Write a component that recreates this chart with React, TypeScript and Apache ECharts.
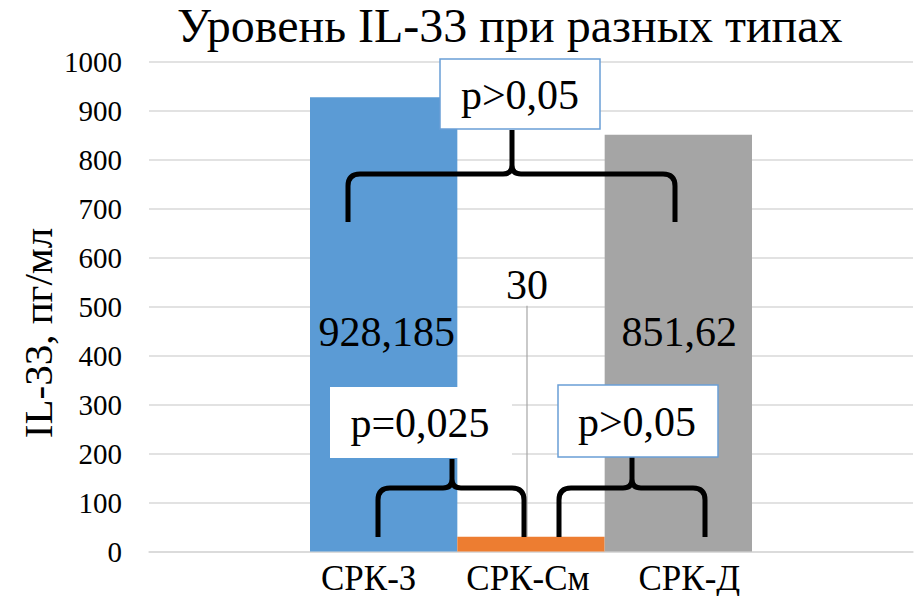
import React, { useEffect, useRef } from 'react';
import * as echarts from 'echarts';

// ---- data ----
const categories = ['СРК-З', 'СРК-См', 'СРК-Д'];
const values = [928.185, 30, 851.62];
const barColors = ['#5B9BD5', '#ED7D31', '#A5A5A5'];
const yMin = 0;
const yMax = 1000;
const yStep = 100;
const chartTitle = 'Уровень IL-33 при разных типах';
const yName = 'IL-33, пг/мл';
const pLabels = ['p>0,05', 'p=0,025', 'p>0,05'];

// ---- styling ----
const FONT = "'Liberation Serif', 'Times New Roman', Times, serif";
const catLabelPadding = [
  [0, 30, 0, 0],
  [0, 6, 0, 0],
  [0, 0, 0, 22],
];
const labelShifts = [
  { dx: 3, dy: 8 },
  { dx: -4, dy: -226 },
  { dx: 1, dy: -11 },
];

// brace geometry (annotations)
const braceDefs = [
  { name: 'braceTop', L: 348, M: 512, R: 675, top: 130, mid: 174, bottom: 222 },
  { name: 'braceLL', L: 378, M: 452, R: 524, top: 459, mid: 488, bottom: 537 },
  { name: 'braceLR', L: 559, M: 632, R: 705, top: 457, mid: 488, bottom: 537 },
];
const boxDefs = [
  { x: 440, y: 59, w: 160, h: 70, border: true, tx: 520, ty: 95 },
  { x: 330, y: 387, w: 182, h: 71, border: false, tx: 420, ty: 423 },
  { x: 558, y: 385, w: 160, h: 72, border: true, tx: 637, ty: 422 },
];

function bracePath(L: number, M: number, R: number, top: number, mid: number, bottom: number) {
  const rc = 12;
  const rm = 9;
  return [
    `M ${L} ${bottom}`,
    `L ${L} ${mid + rc}`,
    `Q ${L} ${mid} ${L + rc} ${mid}`,
    `L ${M - rm} ${mid}`,
    `Q ${M} ${mid} ${M} ${mid - rm}`,
    `L ${M} ${top}`,
    `M ${M} ${mid - rm}`,
    `Q ${M} ${mid} ${M + rm} ${mid}`,
    `L ${R - rc} ${mid}`,
    `Q ${R} ${mid} ${R} ${mid + rc}`,
    `L ${R} ${bottom}`,
  ].join(' ');
}

braceDefs.forEach((b) => {
  echarts.graphic.registerShape(
    b.name,
    echarts.graphic.extendPath(bracePath(b.L, b.M, b.R, b.top, b.mid, b.bottom), {})
  );
});

const fmt = (v: number) => String(v).replace('.', ',');

export default function App() {
  const ref = useRef<HTMLDivElement>(null);

  useEffect(() => {
    if (!ref.current) return;
    const chart = echarts.init(ref.current, undefined, { renderer: 'svg' });

    const graphics: any[] = [];
    braceDefs.forEach((b) => {
      graphics.push({
        type: b.name,
        x: 0,
        y: 0,
        z: 50,
        style: { fill: 'none', stroke: '#000', lineWidth: 5, lineCap: 'butt', lineJoin: 'round' },
      });
    });
    boxDefs.forEach((bx, i) => {
      graphics.push({
        type: 'rect',
        z: 60,
        shape: { x: bx.x, y: bx.y, width: bx.w, height: bx.h },
        style: {
          fill: '#fff',
          stroke: bx.border ? '#6A9FD6' : 'none',
          lineWidth: bx.border ? 1.5 : 0,
        },
      });
      graphics.push({
        type: 'text',
        z: 70,
        x: bx.tx,
        y: bx.ty,
        style: {
          text: pLabels[i],
          fontSize: 42,
          fontFamily: FONT,
          fill: '#000',
          align: 'center',
          verticalAlign: 'middle',
        },
      });
    });
    graphics.push({
      type: 'text',
      z: 70,
      x: 38,
      y: 333,
      rotation: Math.PI / 2,
      style: {
        text: yName,
        fontSize: 41,
        fontFamily: FONT,
        fill: '#000',
        align: 'center',
        verticalAlign: 'middle',
      },
    });

    chart.setOption({
      animation: false,
      textStyle: { fontFamily: FONT },
      title: {
        text: chartTitle,
        left: 177,
        top: 1,
        padding: 0,
        textStyle: { fontSize: 48, fontWeight: 'normal', color: '#000', fontFamily: FONT },
      },
      grid: [
        { left: 149, right: 2, top: 62, bottom: 44.5 },
        { left: 310, width: 442, top: 62, bottom: 44.5 },
      ],
      xAxis: [
        {
          gridIndex: 0,
          type: 'category',
          data: [''],
          axisLine: { show: true, lineStyle: { color: '#D9D9D9', width: 1.5 } },
          axisTick: { show: false },
          axisLabel: { show: false },
        },
        {
          gridIndex: 1,
          type: 'category',
          data: categories.map((c, i) => ({
            value: c,
            textStyle: { padding: catLabelPadding[i] },
          })),
          axisLine: { show: false },
          axisTick: { show: false },
          axisLabel: {
            interval: 0,
            fontSize: 35,
            color: '#000',
            margin: 9,
            fontFamily: FONT,
          },
        },
      ],
      yAxis: [
        {
          gridIndex: 0,
          type: 'value',
          min: yMin,
          max: yMax,
          interval: yStep,
          axisLine: { show: false },
          axisTick: { show: false },
          axisLabel: {
            fontSize: 29,
            color: '#000',
            margin: 27,
            fontFamily: FONT,
            formatter: (v: number) => String(v),
          },
          splitLine: { lineStyle: { color: '#D9D9D9', width: 1.5 } },
        },
        {
          gridIndex: 1,
          type: 'value',
          min: yMin,
          max: yMax,
          interval: yStep,
          show: false,
          splitLine: { show: false },
        },
      ],
      series: [
        {
          type: 'bar',
          xAxisIndex: 1,
          yAxisIndex: 1,
          barWidth: '100%',
          data: values.map((v, i) => ({
            value: v,
            itemStyle: { color: barColors[i] },
            label: { position: i === 1 ? 'top' : 'inside' },
            labelLine:
              i === 1
                ? { show: true, lineStyle: { color: '#A6A6A6', width: 1.2 } }
                : { show: false },
          })),
          label: {
            show: true,
            fontSize: 42,
            color: '#000',
            fontFamily: FONT,
            formatter: (p: any) => fmt(p.value),
          },
          labelLayout: (p: any) => labelShifts[p.dataIndex] || {},
        },
      ],
      graphic: graphics,
    });

    return () => chart.dispose();
  }, []);

  return (
    <div
      ref={ref}
      style={{ position: 'fixed', left: 0, top: 0, width: 915, height: 596, background: '#fff' }}
    />
  );
}
